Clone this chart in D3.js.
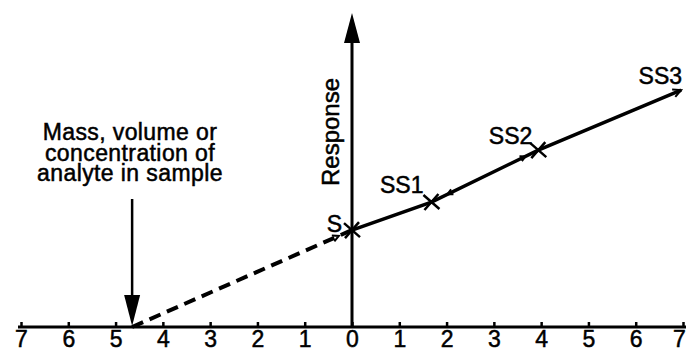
<!DOCTYPE html>
<html>
<head>
<meta charset="utf-8">
<script src="https://cdn.jsdelivr.net/npm/d3@7"></script>
<style>
  html, body { margin: 0; padding: 0; background: #fff; }
  svg { display: block; }
  text { font-family: "Liberation Sans", Arial, Helvetica, sans-serif; fill: #000; stroke: #000; stroke-width: 0.5px; }
  .axis .domain { stroke: #000; stroke-width: 3; }
  .axis .tick line { stroke: #000; stroke-width: 2.5; }
  .axis .tick text { font-size: 23px; }
</style>
</head>
<body>
<div id="chart"></div>
<script>
(function() {
  'use strict';

  // amount of standard added (x) and the measured response (y)
  var labels = ['S', 'SS1', 'SS2', 'SS3'];
  var added = [0, 1.68, 3.94, 6.96];
  var response = [4.63, 5.97, 8.45, 11.32];
  var xTicks = [-7, -6, -5, -4, -3, -2, -1, 0, 1, 2, 3, 4, 5, 6, 7];
  var intercept = -4.65;
  var yLabel = 'Response';
  var noteLines = ['Mass, volume or', 'concentration of', 'analyte in sample'];

  var width = 686,
    height = 354;

  var x = d3.scaleLinear().domain([-7, 7]).range([21, 683]);
  var y = d3.scaleLinear().domain([0, 15]).range([327, 13]);

  var svg = d3.select('#chart').append('svg')
    .attr('width', width)
    .attr('height', height);

  // horizontal axis: ticks point up, labels below, no signs
  var xAxis = d3.axisBottom(x)
    .tickValues(xTicks)
    .tickSizeInner(-5)
    .tickSizeOuter(0)
    .tickPadding(4)
    .tickFormat(function(d) { return Math.abs(d); });

  svg.append('g')
    .attr('class', 'x axis')
    .attr('transform', 'translate(0,' + y(0) + ')')
    .call(xAxis)
    .call(function(g) {
      g.select('.domain').attr('d', 'M' + (x(-7) - 3) + ',0H' + (x(7) + 3));
      g.selectAll('.tick text').attr('dx', function(d) { return d === 7 ? -4 : 0; });
    });

  // vertical response axis with a filled arrow head
  svg.append('line')
    .attr('x1', x(0)).attr('x2', x(0))
    .attr('y1', y(0)).attr('y2', y(15) + 25)
    .attr('stroke', '#000').attr('stroke-width', 3);

  svg.append('path')
    .attr('d', 'M' + x(0) + ',' + y(15) + 'L' + (x(0) + 8) + ',' + (y(15) + 30) +
      'L' + (x(0) - 8) + ',' + (y(15) + 30) + 'Z')
    .attr('fill', '#000');

  svg.append('text')
    .attr('transform', 'translate(' + (x(0) - 13) + ',' + 132 + ') rotate(-90)')
    .attr('text-anchor', 'middle')
    .style('font-size', '24px')
    .text(yLabel);

  // extrapolated part back to the x axis
  svg.append('line')
    .attr('x1', x(intercept)).attr('y1', y(0))
    .attr('x2', x(added[0])).attr('y2', y(response[0]))
    .attr('stroke', '#000')
    .attr('stroke-width', 4)
    .attr('stroke-dasharray', '12,7');

  // measured line through the standards
  var line = d3.line()
    .x(function(d, i) { return x(added[i]); })
    .y(function(d, i) { return y(response[i]); });

  svg.append('path')
    .datum(response)
    .attr('d', line)
    .attr('fill', 'none')
    .attr('stroke', '#000')
    .attr('stroke-width', 3.5);

  // small direction chevrons along the line
  function chevron(x0, y0, x1, y1, t, size) {
    var px = x0 + (x1 - x0) * t, py = y0 + (y1 - y0) * t;
    var a = Math.atan2(y1 - y0, x1 - x0);
    var b1 = a + Math.PI * 0.85, b2 = a - Math.PI * 0.85;
    return 'M' + (px + size * Math.cos(b1)) + ',' + (py + size * Math.sin(b1)) +
      'L' + px + ',' + py +
      'L' + (px + size * Math.cos(b2)) + ',' + (py + size * Math.sin(b2));
  }
  function pt(i) { return [x(added[i]), y(response[i])]; }

  svg.append('path')
    .attr('d',
      chevron(pt(2)[0], pt(2)[1], pt(1)[0], pt(1)[1], 0.85, 6) +
      chevron(pt(1)[0], pt(1)[1], pt(2)[0], pt(2)[1], 0.88, 6) +
      chevron(pt(2)[0], pt(2)[1], pt(3)[0], pt(3)[1], 1, 9) +
      chevron(x(intercept), y(0), pt(0)[0], pt(0)[1], 0.94, 7))
    .attr('fill', 'none')
    .attr('stroke', '#000')
    .attr('stroke-width', 2);

  // crosses for S, SS1, SS2
  svg.selectAll('path.cross')
    .data(response.slice(0, 3))
    .enter().append('path')
    .attr('class', 'cross')
    .attr('d', function(d, i) {
      var cx = x(added[i]), cy = y(d), s = 8;
      return 'M' + (cx - s) + ',' + (cy - s + 1) + 'L' + (cx + s) + ',' + (cy + s - 1) +
        'M' + (cx - s + 1) + ',' + (cy + s) + 'L' + (cx + s - 1) + ',' + (cy - s);
    })
    .attr('stroke', '#000')
    .attr('stroke-width', 2.5);

  var labelOffset = [[-10, 2], [-8, -9], [-6, -6], [1, -6]];

  svg.selectAll('text.point')
    .data(labels)
    .enter().append('text')
    .attr('class', 'point')
    .attr('text-anchor', 'end')
    .attr('x', function(d, i) { return x(added[i]) + labelOffset[i][0]; })
    .attr('y', function(d, i) { return y(response[i]) + labelOffset[i][1]; })
    .style('font-size', '23px')
    .text(function(d) { return d; });

  // annotation with arrow down to the intercept
  svg.selectAll('text.note')
    .data(noteLines)
    .enter().append('text')
    .attr('class', 'note')
    .attr('text-anchor', 'middle')
    .attr('x', 130)
    .attr('y', function(d, i) { return 140 + i * 20.5; })
    .style('font-size', '23px')
    .style('letter-spacing', '0.4px')
    .text(function(d) { return d; });

  svg.append('line')
    .attr('x1', x(intercept)).attr('x2', x(intercept))
    .attr('y1', 199).attr('y2', y(0) - 25)
    .attr('stroke', '#000').attr('stroke-width', 2.5);

  svg.append('path')
    .attr('d', 'M' + x(intercept) + ',' + (y(0) - 1) + 'L' + (x(intercept) - 8) + ',' + (y(0) - 32) +
      'L' + (x(intercept) + 8) + ',' + (y(0) - 32) + 'Z')
    .attr('fill', '#000');
})();
</script>
</body>
</html>
